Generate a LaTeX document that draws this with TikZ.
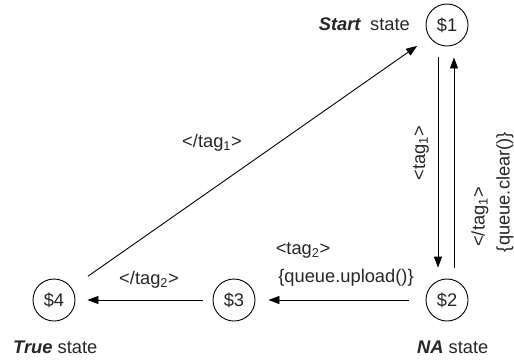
\documentclass[tikz,border=0pt]{standalone}
\usepackage{fontspec}
\setmainfont{Liberation Sans}
\usetikzlibrary{arrows.meta}
\tikzset{
  st/.style={draw=black, circle, line width=0.9pt, minimum size=42pt, inner sep=0pt},
  arr/.style={line width=0.9pt, -{Triangle[length=11pt,width=8pt]}},
  lbl/.style={inner sep=0pt},
}
\begin{document}
\begin{tikzpicture}[x=1pt,y=-1pt,font=\fontsize{18.3}{21}\selectfont, every node/.style={text=black!85}]
\useasboundingbox (0,0) rectangle (514,360);
\node[st] (s1) at (447,25) {\$1};
\node[st] (s2) at (447,300) {\$2};
\node[st] (s3) at (234,300) {\$3};
\node[st] (s4) at (54,300) {\$4};

\draw[arr] ([xshift=-9pt,yshift=-11pt]s1.south) -- ([xshift=-9pt,yshift=11pt]s2.north);
\draw[arr] ([xshift=7pt,yshift=11pt]s2.north) -- ([xshift=7pt,yshift=-11pt]s1.south);
\draw[arr, shorten <=17pt, shorten >=13pt] (s2) -- (s3);
\draw[arr, shorten <=10pt, shorten >=12pt] (s3) -- (s4);
\draw[arr, shorten <=20pt, shorten >=15pt] (s4) -- (s1);

\node[lbl, anchor=east] (startl) at (410,24) {\textbf{\textit{Start}}\hspace{9pt}state};
\node[lbl, anchor=west] (truel) at (13,347) {\textbf{\textit{True}} state};
\node[lbl, anchor=west] (nal) at (417,347) {\textbf{\textit{NA}} state};
\node[lbl] (t1c) at (212,143) {</tag\textsubscript{1}>};
\node[lbl] (t2c) at (149,280) {</tag\textsubscript{2}>};
\node[lbl] (t2o) at (303,250) {<tag\textsubscript{2}>};
\node[lbl] (upl) at (346,278) {\{queue.upload()\}};
\node[lbl, rotate=90] (t1o) at (421,153) {<tag\textsubscript{1}>};
\node[lbl, rotate=90] (t1c2) at (480,217) {</tag\textsubscript{1}>};
\node[lbl, rotate=90] (clr) at (505,192) {\{queue.clear()\}};
\end{tikzpicture}
\end{document}
